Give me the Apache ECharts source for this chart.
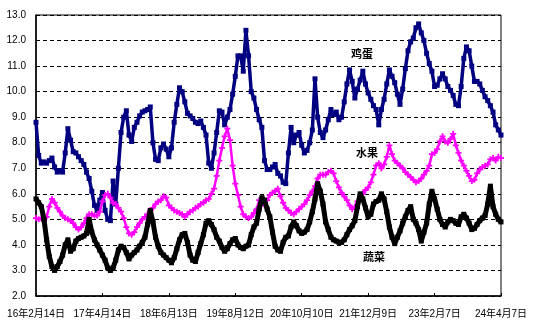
<!DOCTYPE html>
<html>
<head>
<meta charset="utf-8">
<script src="https://cdn.jsdelivr.net/npm/echarts@6/dist/echarts.min.js"></script>
<style>html,body{margin:0;padding:0;background:#fff;}#c{width:554px;height:331px;}</style>
</head>
<body>
<div id="c"></div>
<script>
// Category axis: one point every 17 days from 2016-02-14 (tick label every 25 points = 425 days)
const startDate = '2016-02-14';
const stepDays = 17;
const pointCount = 176;
const tickLabels = ['16年2月14日','17年4月14日','18年6月13日','19年8月12日','20年10月10日','21年12月9日','23年2月7日','24年4月7日'];
const seriesNames = ['鸡蛋', '水果', '蔬菜'];

const egg = [
8.8,7.5,7.2,7.25,7.2,7.3,7.4,7.05,6.85,6.9,
6.85,7.6,8.55,8.1,7.65,7.6,7.45,7.3,7.15,6.85,
6.6,6.1,5.55,5.35,5.75,6.05,5.35,5.0,4.95,6.5,
5.6,7.0,8.4,9.0,9.25,8.3,8.05,8.6,8.8,9.05,
9.2,9.25,9.3,9.4,8.0,7.35,7.3,7.8,7.95,7.75,
7.45,7.8,8.8,9.5,10.15,10.0,9.6,9.15,9.05,8.95,
8.8,8.75,8.85,8.6,8.3,7.2,7.0,7.6,8.4,9.25,
9.2,8.7,9.0,9.3,9.9,10.6,11.4,11.4,10.8,12.4,
11.4,10.0,9.75,9.3,8.9,8.6,7.3,6.95,6.95,7.05,
7.15,6.8,6.7,6.45,6.4,7.6,8.6,8.0,8.3,8.4,
7.9,7.6,7.7,8.0,8.5,10.5,9.0,8.4,8.2,8.5,
8.9,9.3,9.1,9.2,8.9,9.0,9.6,10.3,10.85,10.4,
9.75,10.1,10.45,10.8,10.3,9.95,9.7,9.45,9.3,8.7,
9.3,9.7,10.3,10.85,10.6,10.35,9.9,9.5,10.1,10.9,
11.6,11.95,12.1,12.5,12.65,12.3,12.0,11.5,11.1,10.8,
10.2,10.25,10.5,10.7,10.5,10.2,10.05,9.85,9.5,9.45,
10.2,11.3,11.75,11.6,11.0,10.4,10.4,10.3,10.05,9.8,
9.65,9.45,9.2,8.7,8.5,8.3
];
const fruit = [
5.05,5.0,5.05,4.95,5.1,5.5,5.8,5.65,5.45,5.3,
5.15,5.05,5.0,4.95,4.85,4.7,4.6,4.7,4.85,5.05,
5.2,5.2,5.15,5.15,5.3,5.7,5.95,6.0,5.85,5.65,
5.6,5.45,5.3,5.05,4.7,4.45,4.4,4.5,4.7,4.85,
5.0,5.1,5.2,5.35,5.45,5.6,5.7,5.75,5.9,5.85,
5.55,5.45,5.35,5.3,5.25,5.2,5.1,5.2,5.3,5.35,
5.45,5.5,5.6,5.65,5.75,5.8,6.0,6.2,6.7,7.3,
7.8,8.25,8.55,8.1,7.1,6.4,5.95,5.5,5.2,5.1,
5.05,5.1,5.25,5.4,5.75,5.65,5.55,5.75,5.95,6.05,
6.1,6.2,5.9,5.65,5.45,5.35,5.25,5.2,5.3,5.4,
5.5,5.6,5.75,5.95,6.1,6.3,6.6,6.75,6.75,6.75,
6.85,6.9,6.8,6.5,6.25,6.05,5.9,5.75,5.55,5.4,
5.5,5.7,5.85,6.0,6.15,6.25,6.45,6.75,7.1,7.2,
7.0,7.15,7.45,7.9,7.55,7.3,7.2,7.1,7.0,6.85,
6.75,6.65,6.55,6.45,6.5,6.6,6.75,6.9,7.1,7.55,
7.6,7.75,8.05,8.25,8.05,8.0,8.15,8.35,7.9,7.6,
7.3,7.1,6.9,6.7,6.5,6.55,6.8,6.95,7.05,7.1,
7.15,7.35,7.4,7.3,7.45,7.4
];
const veg = [
5.8,5.65,5.5,5.0,4.2,3.55,3.15,3.0,3.15,3.35,
3.6,4.0,4.2,3.75,3.85,4.15,4.25,4.3,4.35,4.45,
5.0,4.5,4.2,4.0,3.8,3.6,3.4,3.1,3.0,3.1,
3.4,3.8,3.95,3.9,3.7,3.45,3.6,3.7,3.8,3.95,
4.1,4.3,4.8,5.35,4.9,4.3,3.95,3.7,3.6,3.5,
3.4,3.3,3.5,3.85,4.2,4.4,4.45,4.1,3.6,3.4,
3.35,3.7,4.05,4.4,4.85,4.95,4.8,4.6,4.3,4.15,
3.9,3.75,3.85,4.05,4.2,4.25,4.0,3.9,3.85,3.95,
4.0,4.4,4.7,4.85,5.4,5.85,5.75,5.4,5.1,4.5,
3.95,3.8,3.75,4.1,4.3,4.35,4.7,4.9,4.75,4.55,
4.45,4.5,4.6,4.9,5.3,5.8,6.4,6.1,5.6,4.9,
4.6,4.3,4.2,4.15,4.1,4.1,4.2,4.4,4.6,4.75,
4.95,5.5,6.0,5.8,5.45,5.1,5.2,5.6,5.7,5.75,
6.0,5.8,5.3,4.7,4.3,4.05,4.3,4.55,4.85,5.1,
5.35,5.5,5.0,4.85,4.6,4.15,4.5,4.85,5.6,6.1,
5.8,5.4,5.0,4.8,4.7,4.9,5.0,4.95,4.85,4.8,
5.1,5.2,5.05,4.85,4.6,4.65,4.8,4.95,5.05,5.15,
5.6,6.3,5.5,5.2,5.0,4.9
];

function buildCategories() {
  const out = [];
  const t0 = Date.parse(startDate + 'T00:00:00Z');
  for (let i = 0; i < pointCount; i++) {
    const d = new Date(t0 + i * stepDays * 86400000);
    const yy = String(d.getUTCFullYear()).slice(2);
    out.push(yy + '年' + (d.getUTCMonth() + 1) + '月' + d.getUTCDate() + '日');
  }
  return out;
}
const categories = buildCategories();

const plusPath = 'path://M3.5,0H6.5V3.5H10V6.5H6.5V10H3.5V6.5H0V3.5H3.5Z';

const chart = echarts.init(document.getElementById('c'), null, {renderer: 'canvas'});
chart.setOption({
  animation: false,
  backgroundColor: '#ffffff',
  grid: {left: 36, right: 53, top: 15, bottom: 35, show: true, borderColor: '#000', borderWidth: 1, backgroundColor: 'transparent'},
  xAxis: {
    type: 'category',
    data: categories,
    boundaryGap: false,
    axisLine: {lineStyle: {color: '#000', width: 1.5}},
    axisTick: {show: true, inside: true, length: 3, interval: 24, lineStyle: {color: '#000'}},
    axisLabel: {
      interval: 24, margin: 13, color: '#000', fontSize: 10,
      fontFamily: 'Liberation Sans, Arial, "Noto Sans CJK SC", sans-serif',
      formatter: function (v, idx) { const k = Math.round(idx / 25); return tickLabels[k] !== undefined ? tickLabels[k] : v; }
    },
    splitLine: {show: false}
  },
  yAxis: {
    type: 'value',
    min: 2, max: 13, interval: 1,
    axisLine: {show: true, lineStyle: {color: '#000', width: 1.5}},
    axisTick: {show: false},
    axisLabel: {
      margin: 10, color: '#000', fontSize: 10,
      fontFamily: 'Liberation Sans, Arial, sans-serif',
      formatter: function (v) { return v.toFixed(1); }
    },
    splitLine: {show: true, lineStyle: {color: '#000', type: [4, 3], width: 1}}
  },
  series: [
    {
      name: seriesNames[0], type: 'line', data: egg,
      lineStyle: {color: '#000080', width: 3.5},
      itemStyle: {color: '#000080'},
      symbol: 'rect', symbolSize: 5, showAllSymbol: true, z: 2
    },
    {
      name: seriesNames[1], type: 'line', data: fruit,
      lineStyle: {color: '#ff00ff', width: 2.5},
      itemStyle: {color: '#ff00ff'},
      symbol: plusPath, symbolSize: 6, showAllSymbol: true, z: 3
    },
    {
      name: seriesNames[2], type: 'line', data: veg,
      lineStyle: {color: '#000000', width: 5},
      itemStyle: {color: '#000000'},
      symbol: 'rect', symbolSize: 5, showAllSymbol: true, z: 4
    }
  ],
  graphic: [
    {type: 'text', left: 351, top: 48, style: {text: seriesNames[0], font: 'bold 11px "Noto Sans CJK SC"', fill: '#000'}},
    {type: 'text', left: 356, top: 147, style: {text: seriesNames[1], font: 'bold 11px "Noto Sans CJK SC"', fill: '#000'}},
    {type: 'text', left: 363, top: 251, style: {text: seriesNames[2], font: 'bold 11px "Noto Sans CJK SC"', fill: '#000'}}
  ]
});
</script>
</body>
</html>
